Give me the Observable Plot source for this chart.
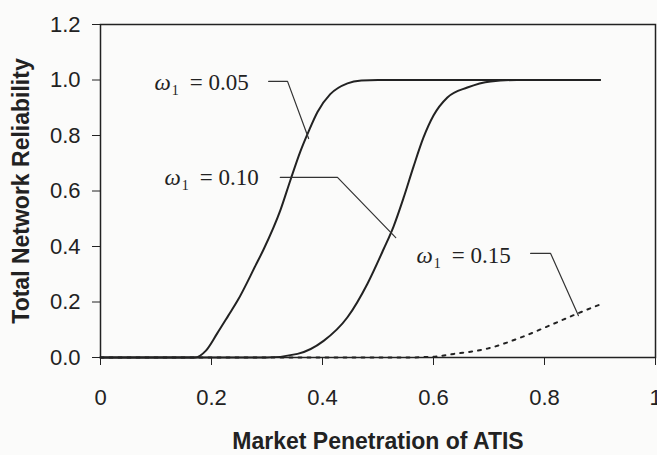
<!DOCTYPE html>
<html>
<head>
<meta charset="utf-8">
<script src="https://cdn.jsdelivr.net/npm/d3@7"></script>
<script src="https://cdn.jsdelivr.net/npm/@observablehq/plot@0.6"></script>
<style>
  body { margin: 0; background: #fbfbfa; }
  #chart svg { display: block; }
</style>
</head>
<body>
<div id="chart"></div>
<script>
// Axis ticks and their labels
const xTicks = [0, 0.2, 0.4, 0.6, 0.8, 1];
const xTickLabels = ["0", "0.2", "0.4", "0.6", "0.8", "1"];
const yTicks = [0, 0.2, 0.4, 0.6, 0.8, 1.0, 1.2];
const yTickLabels = ["0.0", "0.2", "0.4", "0.6", "0.8", "1.0", "1.2"];

// Total network reliability vs. market penetration, one series per ω1
const omegaLevels = ["0.05", "0.10", "0.15"];

const penetration005 = [0, 0.17, 0.19, 0.21, 0.23, 0.247, 0.279, 0.294, 0.324, 0.342, 0.36, 0.375, 0.391, 0.414, 0.445, 0.47, 0.5, 0.9];
const reliability005 = [0, 0, 0.025, 0.086, 0.15, 0.205, 0.33, 0.39, 0.53, 0.638, 0.742, 0.815, 0.885, 0.949, 0.988, 0.998, 1.0, 1.0];

const penetration010 = [0, 0.3, 0.355, 0.402, 0.445, 0.481, 0.51, 0.528, 0.546, 0.564, 0.582, 0.6, 0.625, 0.661, 0.703, 0.75, 0.9];
const reliability010 = [0, 0, 0.013, 0.06, 0.145, 0.266, 0.39, 0.472, 0.575, 0.688, 0.793, 0.872, 0.937, 0.973, 0.995, 1.0, 1.0];

const penetration015 = [0, 0.55, 0.6, 0.637, 0.697, 0.757, 0.817, 0.859, 0.904];
const reliability015 = [0, 0, 0.003, 0.013, 0.032, 0.072, 0.122, 0.158, 0.194];

// Callout labels and their leader lines (data coordinates)
const labelX = [0.267, 0.285, 0.739];
const labelY = [0.989, 0.647, 0.368];
const leaderX = [[0.303, 0.337, 0.375], [0.324, 0.427, 0.532], [0.775, 0.811, 0.861]];
const leaderY = [[0.995, 0.995, 0.789], [0.649, 0.649, 0.432], [0.375, 0.375, 0.151]];

const xTitle = "Market Penetration of ATIS";
const yTitle = "Total Network Reliability";

const toRows = (xs, ys, omega) => xs.map((x, i) => ({x, y: ys[i], omega}));
const solidRows = [
  ...toRows(penetration005, reliability005, omegaLevels[0]),
  ...toRows(penetration010, reliability010, omegaLevels[1])
];
const dottedRows = toRows(penetration015, reliability015, omegaLevels[2]);
const leaderRows = leaderX.flatMap((xs, k) => toRows(xs, leaderY[k], omegaLevels[k]));
const labelRows = omegaLevels.map((omega, k) => ({x: labelX[k], y: labelY[k], omega}));

const ink = "#222";
const sans = "'Liberation Sans', Arial, sans-serif";
const calloutText = d => `ω1 = ${d.omega}`;

const chart = Plot.plot({
  width: 657,
  height: 455,
  marginLeft: 100,
  marginRight: 2,
  marginTop: 24,
  marginBottom: 98,
  style: {background: "#fbfbfa", color: ink, fontFamily: sans, fontSize: "22px", overflow: "visible"},
  x: {domain: [0, 1], ticks: xTicks, tickFormat: d => xTickLabels[xTicks.indexOf(d)], tickSize: 8, tickPadding: 24, label: null},
  y: {domain: [0, 1.2], ticks: yTicks, tickFormat: d => yTickLabels[yTicks.indexOf(d)], tickSize: 8, tickPadding: 12, label: null},
  marks: [
    Plot.frame({stroke: ink, strokeWidth: 1.5}),
    Plot.line(solidRows, {x: "x", y: "y", z: "omega", stroke: ink, strokeWidth: 2, curve: "monotone-x"}),
    Plot.line(dottedRows, {x: "x", y: "y", stroke: ink, strokeWidth: 2, strokeDasharray: "3,6", curve: "monotone-x"}),
    Plot.line(leaderRows, {x: "x", y: "y", z: "omega", stroke: "#333", strokeWidth: 1.2}),
    Plot.text(labelRows, {
      x: "x", y: "y", text: calloutText, textAnchor: "end", lineAnchor: "middle",
      fontFamily: "'Liberation Serif', 'Times New Roman', serif", fontSize: 23, fill: ink
    }),
    Plot.text([xTitle], {frameAnchor: "bottom", dy: 84, text: d => d, textAnchor: "middle", lineAnchor: "middle", fontWeight: "bold", fontSize: 23, fill: ink}),
    Plot.text([yTitle], {frameAnchor: "left", dx: -79, rotate: -90, text: d => d, textAnchor: "middle", lineAnchor: "middle", fontWeight: "bold", fontSize: 23, fill: ink})
  ]
});

// Typeset the callouts as "ω₁ = value" with an italic omega and a lowered subscript
const calloutStrings = labelRows.map(calloutText);
d3.select(chart).selectAll("text").each(function() {
  const k = calloutStrings.indexOf(this.textContent);
  if (k < 0) return;
  const t = d3.select(this);
  t.text(null);
  t.append("tspan").attr("font-style", "italic").text("ω");
  t.append("tspan").attr("font-size", 14).attr("dy", 5).attr("dx", 1).text("1");
  t.append("tspan").attr("dy", -5).attr("dx", 11).text(`= ${labelRows[k].omega}`);
});

document.getElementById("chart").append(chart);
</script>
</body>
</html>
